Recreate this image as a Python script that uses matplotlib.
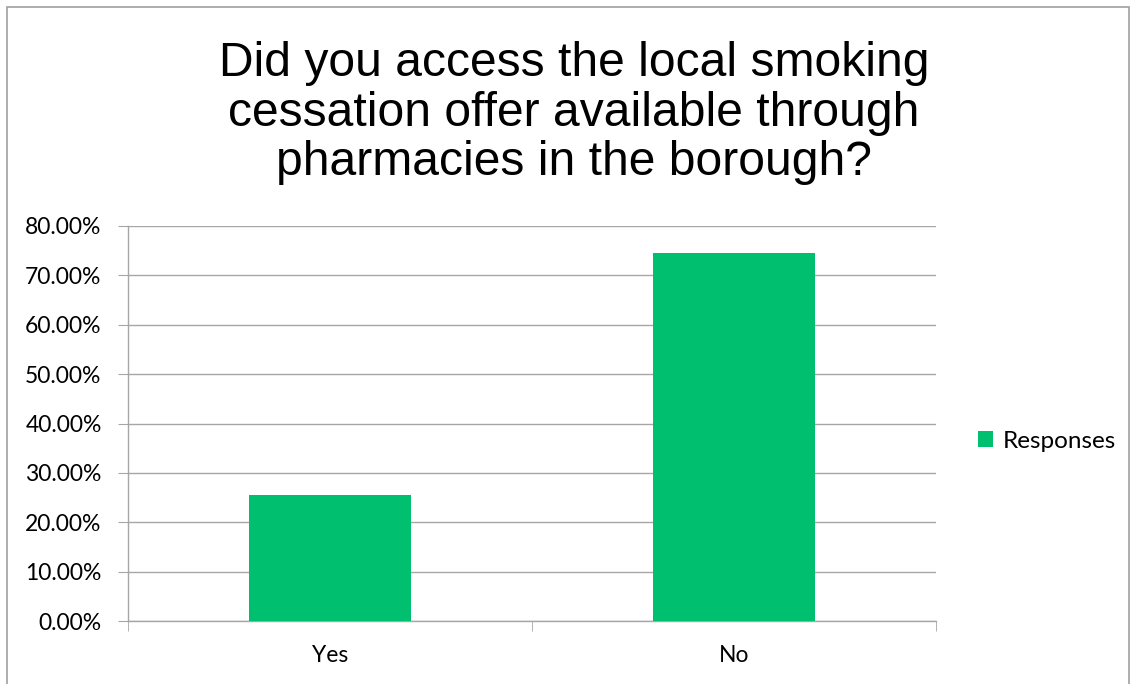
import numpy as np
import matplotlib.pyplot as plt
from matplotlib.patches import Rectangle

categories = ["Yes", "No"]
responses = [25.5, 74.5]
y_ticks = [0, 10, 20, 30, 40, 50, 60, 70, 80]

green = "#00bf6f"
grid_grey = "#a6a6a6"
label_font = ["Lato", "DejaVu Sans"]

fig = plt.figure(figsize=(11.33, 6.84), dpi=100)
ax = fig.add_axes([128 / 1133, 1 - 621 / 684, 808 / 1133, 395 / 684])

x = np.arange(len(categories))
ax.bar(x, responses, width=0.4, color=green, zorder=3, label="Responses")

ax.set_xlim(-0.5, len(categories) - 0.5)
ax.set_ylim(0, 80)
ax.set_yticks(y_ticks)
ax.set_yticklabels([f"{v:.2f}%" for v in y_ticks], fontsize=16.5, family=label_font)
ax.set_xticks(x)
ax.set_xticklabels(categories, fontsize=16.5, family=label_font)
ax.tick_params(axis="x", length=0, pad=17)
ax.tick_params(axis="y", length=7, color=grid_grey, pad=12)

# category boundary ticks on the x axis
ax.set_xticks([-0.5, 0.5, 1.5], minor=True)
ax.tick_params(axis="x", which="minor", length=7, color=grid_grey)

ax.grid(axis="y", color=grid_grey, linewidth=1, zorder=0)
for side in ["top", "right"]:
    ax.spines[side].set_visible(False)
for side in ["left", "bottom"]:
    ax.spines[side].set_color(grid_grey)
    ax.spines[side].set_linewidth(1)

fig.text(574 / 1133, 1 - 113 / 684,
         "Did you access the local smoking\ncessation offer available through\npharmacies in the borough?",
         ha="center", va="center", fontsize=34.6, family="Liberation Sans",
         linespacing=1.13)

ax.legend(loc="center left", bbox_to_anchor=(1.025, 0.455), frameon=False,
          prop={"family": label_font, "size": 17.5},
          handlelength=0.6, handleheight=0.6, handletextpad=0.4)

# outer chart border
fig.patches.append(Rectangle((7 / 1133, -0.05), 1122 / 1133, 1.05 - 7 / 684,
                             transform=fig.transFigure, fill=False,
                             edgecolor="#a0a0a0", linewidth=1.2))

fig.savefig("out.png", dpi=100, facecolor="white")
